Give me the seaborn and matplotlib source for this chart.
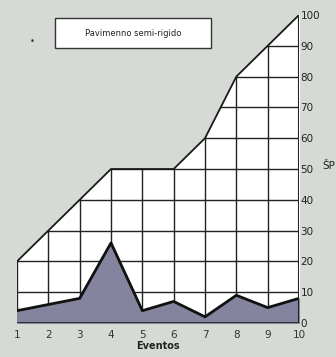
import numpy as np
import pandas as pd
import seaborn as sns
import matplotlib.pyplot as plt
from matplotlib.patches import Rectangle

sns.set_theme(style="white")

eventos = [1, 2, 3, 4, 5, 6, 7, 8, 9, 10]
acumulado = [20, 30, 40, 50, 50, 50, 60, 80, 90, 100]
individual = [4, 6, 8, 26, 4, 7, 2, 9, 5, 8]
yticks = [0, 10, 20, 30, 40, 50, 60, 70, 80, 90, 100]

df = pd.DataFrame({"evento": eventos, "acum": acumulado, "ind": individual})

bg = "#d6dad5"
fig = plt.figure(figsize=(3.36, 3.57), dpi=100, facecolor=bg)
ax = fig.add_axes([17 / 336, 34 / 357, 282 / 336, 308 / 357])
ax.set_facecolor(bg)

# white area under cumulative curve, grid clipped to it
poly = ax.fill_between(df["evento"], 0, df["acum"], color="white", zorder=1)
path = poly.get_paths()[0]
for x in eventos:
    ln = ax.plot([x, x], [0, 100], color="#222222", lw=1.0, zorder=2)[0]
    ln.set_clip_path(path, ax.transData)
for y in yticks:
    ln = ax.plot([1, 10], [y, y], color="#222222", lw=1.0, zorder=2)[0]
    ln.set_clip_path(path, ax.transData)

ax.fill_between(df["evento"], 0, df["ind"], color="#84849f", zorder=3)
sns.lineplot(data=df, x="evento", y="acum", color="#1a1a1a", lw=1.3, ax=ax, zorder=4)
sns.lineplot(data=df, x="evento", y="ind", color="#111111", lw=2.0, ax=ax, zorder=4)
ax.plot([1, 10], [0, 0], color="#222222", lw=1.2, zorder=4)
ax.plot([10, 10], [0, 100], color="#222222", lw=1.5, zorder=4)

ax.set_xlim(1, 10)
ax.set_ylim(0, 100)
for s in ax.spines.values():
    s.set_visible(False)
ax.set_xticks(eventos)
ax.set_xticklabels([str(e) for e in eventos], fontsize=7.5, color="#333333")
ax.yaxis.tick_right()
ax.set_yticks(yticks)
ax.set_yticklabels([str(t) for t in yticks], fontsize=7.5, color="#222222")
ax.tick_params(axis="y", length=0, pad=1)
ax.tick_params(axis="x", length=0, pad=5)
ax.set_xlabel("Eventos", fontsize=7, labelpad=1, fontweight="bold", color="#222222")
ax.set_ylabel("")

fig.text(322 / 336, 1 - 166 / 357, "ŠP", fontsize=7.5, color="#222222",
         ha="left", va="center")
fig.text(32 / 336, 1 - 42 / 357, "•", fontsize=6, color="#333333", ha="center", va="center")
fig.patches.append(Rectangle((55 / 336, 1 - 48 / 357), 156 / 336, 30 / 357,
                             transform=fig.transFigure, fc="white", ec="#333333", lw=1.0))
fig.text(133 / 336, 1 - 33 / 357, "Pavimenno semi-rigido", fontsize=6, color="#222222",
         ha="center", va="center")

fig.savefig("out.png", dpi=100, facecolor=bg)
